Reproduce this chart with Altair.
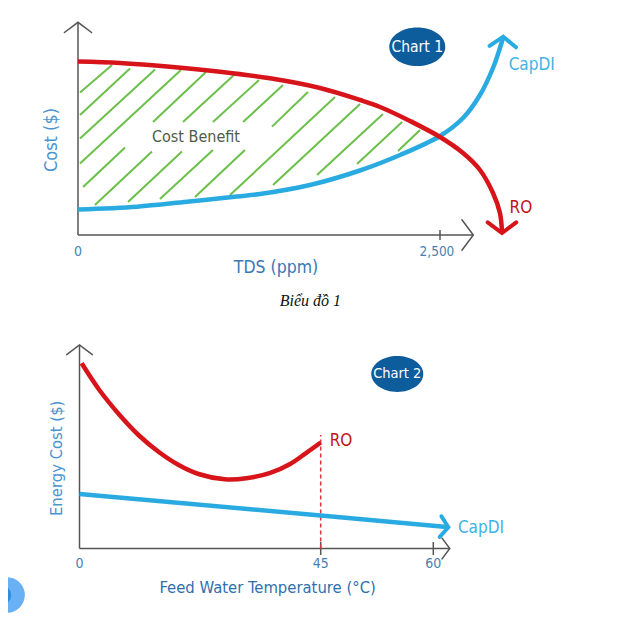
import altair as alt
import pandas as pd

FONT = "Liberation Sans Narrow, DejaVu Sans Condensed, Arial Narrow, sans-serif"
RED = "#d7141a"
BLUE = "#29abe2"
AXIS = "#555555"
GREEN = "#6cc04a"
NAVY = "#0d5c9c"

# ---------------- Chart 1 : Cost ($) vs TDS (ppm) ----------------
c1_ro_tds = [0, 290, 635, 981, 1326, 1671, 1948, 2086, 2293, 2500, 2659, 2776, 2866, 2914, 2928]
c1_ro_cost = [86.75, 86, 84.15, 81.65, 78.35, 73.5, 67.5, 64, 57, 49, 41, 32.5, 21, 11, 1.5]
c1_capdi_tds = [0, 407, 753, 1098, 1257, 1602, 1947, 2224, 2500, 2659, 2776, 2866, 2914, 2935]
c1_capdi_cost = [12.75, 14.15, 16.65, 19.25, 20.5, 25, 32.25, 40, 49.5, 58.5, 70, 83.5, 93.5, 98.5]

# green hatching of the "Cost Benefit" area (segment start / end)
hatch_tds_a = [14, 14, 14, 14, 35, 518, 117, 725, 345, 932, 566, 1140, 808, 1340, 1050, 1347, 1651, 1927, 2210]
hatch_cost_a = [71.2, 60, 48.2, 35.8, 24, 56.5, 15, 56.5, 16.5, 56.5, 18, 56.5, 19, 54.2, 20, 25, 30, 35.5, 42]
hatch_tds_b = [235, 359, 532, 711, 325, 884, 511, 1077, 718, 1250, 932, 1416, 1153, 1588, 1775, 1948, 2106, 2238, 2362]
hatch_cost_b = [85, 83.2, 82.8, 82.5, 43.8, 81.5, 41.8, 80, 41.8, 77.5, 42.5, 75, 42.5, 71.5, 69, 65.5, 60.5, 56.5, 52.5]

# axes (segments) of chart 1
c1_axis_x = [0, 0, 2500]
c1_axis_y = [0, 0, -2.5]
c1_axis_x2 = [0, 2730, 2500]
c1_axis_y2 = [106.35, 0, 2.5]

# arrow heads of chart 1 (tip positions)
c1_tip_x = [0, 2730, 2928, 2937]
c1_tip_y = [106.35, 0, 1, 99.15]
c1_tip_angle = [0, 90, 180, 3]
c1_tip_size = [1156, 1444, 1267, 1089]
c1_tip_color = [AXIS, AXIS, RED, BLUE]
c1_tip_width = [1.5, 1.5, 4, 4]

# ---------------- Chart 2 : Energy Cost ($) vs Feed Water Temperature ----------------
c2_ro_temp = [0.4, 3.7, 7.4, 11.1, 14.8, 18.5, 22.2, 27.1, 31.1, 35.6, 39.3, 42.2, 45]
c2_ro_energy = [92.6, 79.25, 67, 56.5, 48.25, 41.75, 37.25, 34.6, 35.1, 37.8, 42.25, 47.6, 53]
c2_capdi_temp = [0, 45, 61.8]
c2_capdi_energy = [27.25, 16.5, 10.75]

c2_axis_x = [0, 0, 45, 60]
c2_axis_y = [0, 0, -3.25, -3.25]
c2_axis_x2 = [0, 62.2, 45, 60]
c2_axis_y2 = [101.75, 0, 3.25, 3.25]

c2_tip_x = [0, 62.2, 62.0]
c2_tip_y = [101.75, 0, 10.6]
c2_tip_angle = [0, 90, 95]
c2_tip_size = [1024, 676, 676]
c2_tip_color = [AXIS, AXIS, BLUE]
c2_tip_width = [1.5, 1.5, 4]

CHEVRON = "M-0.8,0.6L0,0L0.8,0.6"
ELLIPSE = "M-1,0A1,0.69 0 1,0 1,0A1,0.69 0 1,0 -1,0Z"

sx1 = alt.Scale(domain=[0, 2500], range=[70, 432], nice=False, zero=False)
sy1 = alt.Scale(domain=[0, 100], range=[227, 27], nice=False, zero=False)
sx2 = alt.Scale(domain=[0, 45, 60], range=[71.5, 312.7, 425.3], nice=False, zero=False)
sy2 = alt.Scale(domain=[0, 100], range=[228.5, 28.5], nice=False, zero=False)


def xy(base, sx, sy, **extra):
    return base.encode(
        x=alt.X("x:Q", scale=sx, axis=None),
        y=alt.Y("y:Q", scale=sy, axis=None),
        **extra,
    )


def seg(df, sx, sy, **mark):
    return xy(alt.Chart(df).mark_rule(**mark), sx, sy, x2="x2:Q", y2="y2:Q")


def curve(xs, ys, sx, sy, color, width=4.5, interp="catmull-rom"):
    df = pd.DataFrame({"x": xs, "y": ys, "i": range(len(xs))})
    return xy(alt.Chart(df).mark_line(color=color, strokeWidth=width, interpolate=interp,
                                      strokeCap="butt"), sx, sy, order="i:Q")


def tips(xs, ys, ang, size, col, wid, sx, sy):
    df = pd.DataFrame({"x": xs, "y": ys, "a": ang, "s": size, "c": col, "w": wid})
    return xy(alt.Chart(df).mark_point(shape=CHEVRON, filled=False, opacity=1,
                                       strokeJoin="miter", strokeCap="round"),
              sx, sy,
              angle=alt.Angle("a:Q", scale=None),
              size=alt.Size("s:Q", scale=None, legend=None),
              color=alt.Color("c:N", scale=None),
              strokeWidth=alt.StrokeWidth("w:Q", scale=None, legend=None))


def label(x, y, text, sx, sy, **mark):
    df = pd.DataFrame({"x": [x], "y": [y], "t": [text]})
    return xy(alt.Chart(df).mark_text(**mark), sx, sy, text="t:N")


def badge(x, y, size, text, fs, sx, sy):
    df = pd.DataFrame({"x": [x], "y": [y]})
    ell = xy(alt.Chart(df).mark_point(shape=ELLIPSE, filled=True, color=NAVY, opacity=1,
                                      size=size), sx, sy)
    return ell + label(x, y, text, sx, sy, font=FONT, fontSize=fs, color="white")


# ---------- panel 1 ----------
hatch = seg(pd.DataFrame({"x": hatch_tds_a, "y": hatch_cost_a, "x2": hatch_tds_b, "y2": hatch_cost_b}),
            sx1, sy1, color=GREEN, strokeWidth=2)
axes1 = seg(pd.DataFrame({"x": c1_axis_x, "y": c1_axis_y, "x2": c1_axis_x2, "y2": c1_axis_y2}),
            sx1, sy1, color=AXIS, strokeWidth=1.5)

p1 = alt.layer(
    hatch,
    axes1,
    curve(c1_capdi_tds, c1_capdi_cost, sx1, sy1, BLUE, 4.5),
    curve(c1_ro_tds, c1_ro_cost, sx1, sy1, RED, 4.5),
    tips(c1_tip_x, c1_tip_y, c1_tip_angle, c1_tip_size, c1_tip_color, c1_tip_width, sx1, sy1),
    badge(2343, 94.15, 3136, "Chart 1", 15.5, sx1, sy1),
    label(815, 49, "Cost Benefit", sx1, sy1, font=FONT, fontSize=16, color="#4f5b4c"),
    label(3133, 85, "CapDI", sx1, sy1, font=FONT, fontSize=17, color="#3fb3e6"),
    label(3059, 13.35, "RO", sx1, sy1, font=FONT, fontSize=17, color="#c0141a"),
    label(0, -8.5, "0", sx1, sy1, font=FONT, fontSize=14, color="#4a7fb3"),
    label(2479, -8.5, "2,500", sx1, sy1, font=FONT, fontSize=13.5, color="#4a7fb3"),
    label(1367, -16.5, "TDS (ppm)", sx1, sy1, font=FONT, fontSize=17.5, color="#3a78b5"),
    label(-180, 47.5, "Cost ($)", sx1, sy1, font=FONT, fontSize=18, color="#4a94cf", angle=270),
    label(1605, -33, "Biểu đồ 1", sx1, sy1, font="Liberation Serif, DejaVu Serif, serif",
          fontSize=16, fontStyle="italic", color="#111111"),
).properties(width=604, height=312)

# ---------- panel 2 ----------
axes2 = seg(pd.DataFrame({"x": c2_axis_x, "y": c2_axis_y, "x2": c2_axis_x2, "y2": c2_axis_y2}),
            sx2, sy2, color=AXIS, strokeWidth=1.5)
dash = seg(pd.DataFrame({"x": [45], "y": [0], "x2": [45], "y2": [56.75]}),
           sx2, sy2, color="#d9363e", strokeWidth=1.5, strokeDash=[4, 3])

widget = pd.DataFrame({"x": [-13.5, -14.6], "y": [-23.25, -23.25], "s": [1257, 400],
                       "c": ["#6ab0f5", "#2f8de4"]})
widget_layer = xy(alt.Chart(widget).mark_point(shape="circle", filled=True, opacity=1, clip=True),
                  sx2, sy2,
                  size=alt.Size("s:Q", scale=None, legend=None),
                  color=alt.Color("c:N", scale=None))

p2 = alt.layer(
    axes2,
    dash,
    curve(c2_capdi_temp, c2_capdi_energy, sx2, sy2, BLUE, 4.5, "linear"),
    curve(c2_ro_temp, c2_ro_energy, sx2, sy2, RED, 4.5),
    tips(c2_tip_x, c2_tip_y, c2_tip_angle, c2_tip_size, c2_tip_color, c2_tip_width, sx2, sy2),
    badge(55.2, 87.25, 2704, "Chart 2", 14.5, sx2, sy2),
    label(47.7, 53.9, "RO", sx2, sy2, font=FONT, fontSize=17, color="#c0141a"),
    label(66.35, 10.1, "CapDI", sx2, sy2, font=FONT, fontSize=17, color="#3fb3e6"),
    label(0, -7.75, "0", sx2, sy2, font=FONT, fontSize=14, color="#4a7fb3"),
    label(45, -7.75, "45", sx2, sy2, font=FONT, fontSize=14, color="#4a7fb3"),
    label(60, -7.75, "60", sx2, sy2, font=FONT, fontSize=14, color="#4a7fb3"),
    label(35.1, -19.9, "Feed Water Temperature (°C)", sx2, sy2, font=FONT, fontSize=16.5, color="#2f6fae"),
    label(-4.23, 45.1, "Energy Cost ($)", sx2, sy2, font=FONT, fontSize=16.5, color="#4a94cf", angle=270),
    widget_layer,
).properties(width=604, height=311)

chart = alt.vconcat(p1, p2, spacing=0, padding=0, background="white").configure_view(stroke=None)

chart.save("out.html", embed_options={"renderer": "svg", "actions": False})
